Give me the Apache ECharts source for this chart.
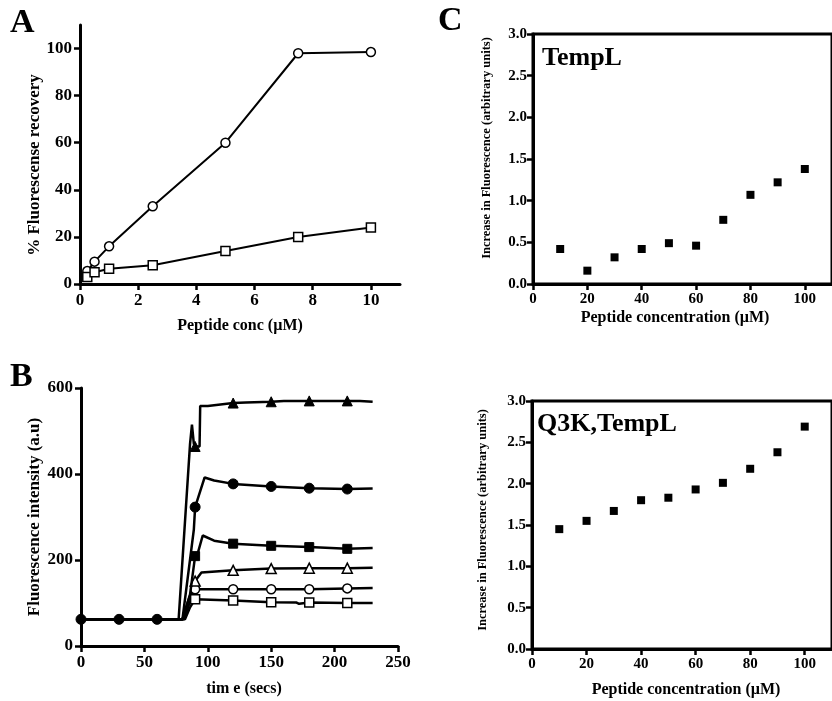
<!DOCTYPE html>
<html>
<head>
<meta charset="utf-8">
<script src="https://cdn.jsdelivr.net/npm/echarts@6/dist/echarts.min.js"></script>
<style>html,body{margin:0;padding:0;background:#fff}#c{width:832px;height:701px}</style>
</head>
<body>
<div id="c"></div>
<script>
// ---- Panel A data ----
const aCircleX = [0.25, 0.5, 1, 2.5, 5, 7.5, 10];
const aCircleY = [5.5, 9.5, 16, 33, 60, 98, 98.5];
const aSquareX = [0.25, 0.5, 1, 2.5, 5, 7.5, 10];
const aSquareY = [3, 5, 6.5, 8, 14, 20, 24];
const aXTicks = [0, 2, 4, 6, 8, 10];
const aYTicks = [0, 20, 40, 60, 80, 100];

// ---- Panel B data (time, intensity) ----
const bFilledTriT = [0, 30, 60, 77, 86, 87, 87.5, 88.5, 89, 90, 93.5, 94, 100, 120, 130, 150, 160, 180, 210, 220, 230];
const bFilledTriV = [62, 62, 62, 62, 470, 470, 515, 515, 470, 464, 464, 558, 558, 565, 566, 568, 570, 570, 570, 570, 568];
const bFilledCirT = [0, 30, 60, 80, 89, 90, 97.5, 105, 120, 150, 180, 210, 230];
const bFilledCirV = [62, 62, 62, 62, 271, 323, 392, 385, 377, 371, 367, 365, 366];
const bFilledSqT = [0, 30, 60, 80, 86, 90, 92, 96, 105, 120, 150, 180, 210, 230];
const bFilledSqV = [62, 62, 62, 62, 120, 209, 215, 257, 245, 238, 233, 230, 226, 228];
const bOpenTriT = [0, 30, 60, 80, 84, 90, 95, 120, 150, 180, 210, 230];
const bOpenTriV = [62, 62, 62, 62, 100, 151, 171, 176, 180, 181, 181, 182];
const bOpenCirT = [0, 30, 60, 81, 85, 90, 120, 150, 180, 210, 230];
const bOpenCirV = [62, 62, 62, 62, 95, 132, 132, 132, 132, 134, 135];
const bOpenSqT = [0, 30, 60, 82, 86, 90, 120, 150, 170, 172, 180, 210, 230];
const bOpenSqV = [62, 62, 62, 62, 90, 109, 106, 102, 101, 98, 101, 100, 100];
const bMarkerT = [90, 120, 150, 180, 210];
const bBaseMarkerT = [0, 30, 60];
const bXTicks = [0, 50, 100, 150, 200, 250];
const bYTicks = [0, 200, 400, 600];

// ---- Panel C data ----
const cConc = [10, 20, 30, 40, 50, 60, 70, 80, 90, 100];
const cTempL = [0.42, 0.16, 0.32, 0.42, 0.49, 0.46, 0.77, 1.07, 1.22, 1.38];
const cQ3K = [1.45, 1.55, 1.67, 1.80, 1.83, 1.93, 2.01, 2.18, 2.38, 2.69];
const cXTicks = [0, 20, 40, 60, 80, 100];
const cYTicks = [0, 0.5, 1, 1.5, 2, 2.5, 3];

const FONT = '"Liberation Serif", "Times New Roman", serif';
const chart = echarts.init(document.getElementById('c'), null, {renderer: 'canvas'});

function zip(xs, ys) { return xs.map((x, i) => [x, ys[i]]); }
function bData(ts, vs, sym, withBase) {
  return ts.map((t, i) => ({
    value: [t, vs[i]],
    symbol: (bMarkerT.indexOf(t) >= 0 || (withBase && bBaseMarkerT.indexOf(t) >= 0)) ? sym : 'none'
  }));
}

const axisLineStyle = {show: true, lineStyle: {color: '#000', width: 3}};
const tickStyle = {show: true, length: 6, lineStyle: {color: '#000', width: 2.5}};
function labelStyle(size) {
  return {color: '#000', fontFamily: FONT, fontWeight: 'bold', fontSize: size};
}

function makeAxis(grid, min, max, ticks, size, margin, fmt) {
  return {
    type: 'value', gridIndex: grid, min: min, max: max,
    axisLine: Object.assign({onZero: false}, axisLineStyle),
    axisTick: Object.assign({customValues: ticks}, tickStyle),
    axisLabel: Object.assign({customValues: ticks, margin: margin, formatter: fmt}, labelStyle(size)),
    splitLine: {show: false}
  };
}
const fixed1 = v => v.toFixed(1);

const openItem = {color: '#fff', borderColor: '#000', borderWidth: 1.5, opacity: 1};
const filledItem = {color: '#000', borderColor: '#000', borderWidth: 1, opacity: 1};
const lineStyleA = {color: '#000', width: 2};
const lineStyleB = {color: '#000', width: 2.5};

function bSeries(ts, vs, sym, open, size, z, withBase) {
  return {
    type: 'line', xAxisIndex: 1, yAxisIndex: 1,
    data: bData(ts, vs, sym, withBase), symbolSize: size || 9, showAllSymbol: true,
    lineStyle: lineStyleB, itemStyle: open ? openItem : filledItem,
    z: z
  };
}

const option = {
  backgroundColor: '#fff',
  animation: false,
  grid: [
    {left: 80, top: 25, width: 320, height: 259},
    {left: 81, top: 388, width: 317, height: 258},
    {left: 533, top: 34, width: 308, height: 250, show: true, borderColor: '#000', borderWidth: 3},
    {left: 532, top: 401, width: 307, height: 248, show: true, borderColor: '#000', borderWidth: 3}
  ],
  xAxis: [
    makeAxis(0, 0, 11, aXTicks, 17, 8),
    makeAxis(1, 0, 250, bXTicks, 17, 8),
    makeAxis(2, 0, 110, cXTicks, 15, 8),
    makeAxis(3, 0, 110, cXTicks, 15, 8)
  ],
  yAxis: [
    makeAxis(0, 0, 110, aYTicks, 17, 8),
    makeAxis(1, 0, 600, bYTicks, 17, 8),
    makeAxis(2, 0, 3, cYTicks, 15, 6, fixed1),
    makeAxis(3, 0, 3, cYTicks, 15, 6, fixed1)
  ],
  series: [
    {type: 'line', xAxisIndex: 0, yAxisIndex: 0, data: zip(aCircleX, aCircleY),
     symbol: 'circle', symbolSize: 9, lineStyle: lineStyleA, itemStyle: openItem},
    {type: 'line', xAxisIndex: 0, yAxisIndex: 0, data: zip(aSquareX, aSquareY),
     symbol: 'rect', symbolSize: 9, lineStyle: lineStyleA, itemStyle: openItem},
    bSeries(bOpenSqT, bOpenSqV, 'rect', true, 9, 2, false),
    bSeries(bOpenCirT, bOpenCirV, 'circle', true, 9, 2, false),
    bSeries(bOpenTriT, bOpenTriV, 'triangle', true, 10, 2, false),
    bSeries(bFilledSqT, bFilledSqV, 'rect', false, 9, 3, false),
    bSeries(bFilledTriT, bFilledTriV, 'triangle', false, 10, 3, false),
    bSeries(bFilledCirT, bFilledCirV, 'circle', false, 10, 4, true),
    {type: 'scatter', xAxisIndex: 2, yAxisIndex: 2, data: zip(cConc, cTempL),
     symbol: 'rect', symbolSize: 8, itemStyle: {color: '#000', opacity: 1}},
    {type: 'scatter', xAxisIndex: 3, yAxisIndex: 3, data: zip(cConc, cQ3K),
     symbol: 'rect', symbolSize: 8, itemStyle: {color: '#000', opacity: 1}}
  ],
  graphic: [
    {type: 'text', left: 10, top: 6, style: {text: 'A', font: 'bold 34px ' + FONT, fill: '#000'}},
    {type: 'text', left: 10, top: 360, style: {text: 'B', font: 'bold 34px ' + FONT, fill: '#000'}},
    {type: 'text', left: 438, top: 4, style: {text: 'C', font: 'bold 34px ' + FONT, fill: '#000'}},
    {type: 'text', x: 35, y: 165, rotation: Math.PI / 2,
     style: {text: '% Fluorescense recovery', font: 'bold 17px ' + FONT, fill: '#000', align: 'center', verticalAlign: 'middle'}},
    {type: 'text', x: 240, y: 326, style: {text: 'Peptide conc (µM)', font: 'bold 16px ' + FONT, fill: '#000', align: 'center', verticalAlign: 'middle'}},
    {type: 'text', x: 35, y: 517, rotation: Math.PI / 2,
     style: {text: 'Fluorescence intensity (a.u)', font: 'bold 17px ' + FONT, fill: '#000', align: 'center', verticalAlign: 'middle'}},
    {type: 'text', x: 244, y: 689, style: {text: 'tim e (secs)', font: 'bold 16px ' + FONT, fill: '#000', align: 'center', verticalAlign: 'middle'}},
    {type: 'text', x: 487, y: 148, rotation: Math.PI / 2,
     style: {text: 'Increase in Fluorescence (arbitrary units)', font: 'bold 12.5px ' + FONT, fill: '#000', align: 'center', verticalAlign: 'middle'}},
    {type: 'text', x: 483, y: 520, rotation: Math.PI / 2,
     style: {text: 'Increase in Fluorescence (arbitrary units)', font: 'bold 12.5px ' + FONT, fill: '#000', align: 'center', verticalAlign: 'middle'}},
    {type: 'text', x: 675, y: 318, style: {text: 'Peptide concentration (µM)', font: 'bold 16px ' + FONT, fill: '#000', align: 'center', verticalAlign: 'middle'}},
    {type: 'text', x: 686, y: 690, style: {text: 'Peptide concentration (µM)', font: 'bold 16px ' + FONT, fill: '#000', align: 'center', verticalAlign: 'middle'}},
    {type: 'text', x: 542, y: 58, style: {text: 'TempL', font: 'bold 26px ' + FONT, fill: '#000', align: 'left', verticalAlign: 'middle'}},
    {type: 'text', x: 537, y: 424, style: {text: 'Q3K,TempL', font: 'bold 26px ' + FONT, fill: '#000', align: 'left', verticalAlign: 'middle'}}
  ]
};
chart.setOption(option);
</script>
</body>
</html>
